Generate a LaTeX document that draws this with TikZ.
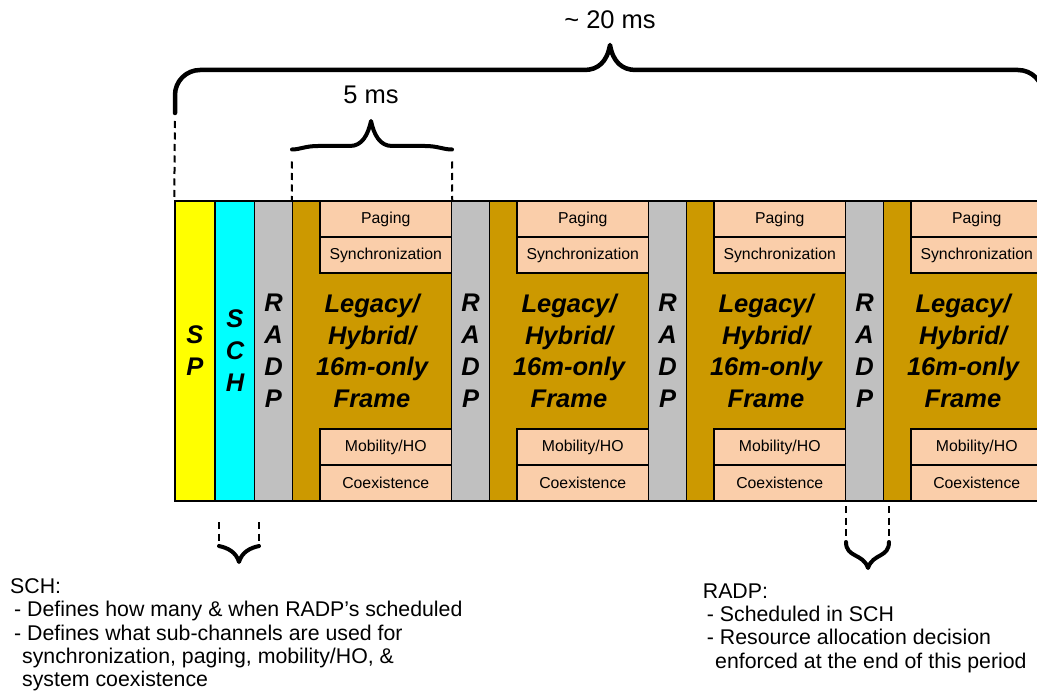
\documentclass[tikz,border=0pt]{standalone}
\usepackage{fontspec}
\setmainfont{Liberation Sans}
\definecolor{spyellow}{RGB}{255,255,0}
\definecolor{schcyan}{RGB}{0,255,255}
\definecolor{radpgray}{RGB}{192,192,192}
\definecolor{framegold}{RGB}{204,153,0}
\definecolor{peach}{RGB}{250,206,170}

\begin{document}
\begin{tikzpicture}[x=1pt,y=-1pt,
  blk/.style={draw=black, line width=1.5pt, inner sep=0pt, align=center,
    minimum height=300pt, font=\fontsize{25.5}{32}\selectfont\bfseries\itshape},
  slot/.style={draw=black, line width=1.5pt, fill=peach, inner sep=0pt,
    minimum height=36pt, minimum width=131.5pt, font=\fontsize{15.8}{18}\selectfont},
  bigtxt/.style={font=\fontsize{25.5}{31.6}\selectfont\bfseries\itshape,
    align=center, inner sep=0pt},
  brace/.style={line width=4.5pt, line cap=round, line join=round},
  smallbrace/.style={line width=4pt, line cap=round, line join=round},
  dashline/.style={line width=2pt, dash pattern=on 7pt off 4.5pt},
  note/.style={font=\fontsize{21.3}{24}\selectfont, anchor=base west, inner sep=0pt},
  ms/.style={font=\fontsize{25.5}{30}\selectfont, anchor=base, inner sep=0pt}
]
\useasboundingbox (0,0) rectangle (1037,698);

% superframe start: SP and SCH
\node[blk, fill=spyellow, minimum width=40pt] (sp) at (195,351) {S\\P};
\node[blk, fill=schcyan, minimum width=40pt] (sch) at (235,351) {S\\C\\H};

% four RADP + frame periods
\foreach \i in {1,...,4}{
  \pgfmathsetmacro\rx{254.5+197*(\i-1)}
  \pgfmathsetmacro\rc{\rx+19}
  \pgfmathsetmacro\fc{\rx+117.5}
  \pgfmathsetmacro\sc{\rx+131.25}
  \node[blk, fill=radpgray, minimum width=38pt] (radp\i) at (\rc,351) {R\\A\\D\\P};
  \node[blk, fill=framegold, minimum width=159pt] (frame\i) at (\fc,351) {};
  \node[slot] (pag\i) at (\sc,219) {Paging};
  \node[slot] (syn\i) at (\sc,255) {Synchronization};
  \node[slot] (mob\i) at (\sc,447) {Mobility/HO};
  \node[slot] (coe\i) at (\sc,483) {Coexistence};
  \node[bigtxt] (lbl\i) at (\fc,351) {Legacy/\\Hybrid/\\16m-only\\Frame};
}

% ~20 ms brace over the whole superframe
\coordinate (bigL) at (175,113);
\coordinate (bigR) at (1043,113);
\coordinate (bigTip) at (610,45);
\draw[brace] (bigL) -- (175,95) .. controls (175,81.2) and (186.2,70) .. (200,70)
  -- (584,70) .. controls (598,70) and (607,62) .. (bigTip)
  .. controls (613,62) and (622,70) .. (636,70)
  -- (1018,70) .. controls (1031.8,70) and (1043,81.2) .. (1043,95) -- (bigR);
\node[ms] (t20) at (610,28.3) {\textasciitilde{} 20 ms};
\draw[dashline, shorten <=8pt] (bigL) -- (sp.north west);

% 5 ms brace over one frame
\coordinate (fiveL) at (292,149.5);
\coordinate (fiveR) at (452,149.5);
\coordinate (fiveTip) at (371,121);
\draw[smallbrace] (fiveL) .. controls (300,149.5) and (305,146) .. (318,146)
  -- (350,146) .. controls (362,146) and (368,135) .. (fiveTip)
  .. controls (374,135) and (380,146) .. (392,146)
  -- (425,146) .. controls (438,146) and (443,149.5) .. (fiveR);
\node[ms] (t5) at (371,104) {5 ms};
\draw[dashline, shorten <=12pt] (fiveL) -- (frame1.north west);
\draw[dashline, shorten <=12pt] (fiveR) -- (frame1.north east);

% brace under SCH
\coordinate (sbL) at (219,546);
\coordinate (sbR) at (259,546);
\coordinate (sbLtop) at (219,522);
\coordinate (sbRtop) at (259,522);
\draw[dashline, shorten >=3pt] (sbLtop) -- (sbL);
\draw[dashline, shorten >=3pt] (sbRtop) -- (sbR);
\draw[smallbrace] (sbL) .. controls (228,548) and (236,552) .. (239,562)
  .. controls (242,552) and (250,548) .. (sbR);

% brace under the last RADP
\coordinate (rbL) at (846,542);
\coordinate (rbR) at (889,542);
\coordinate (rbLtop) at (846,506);
\coordinate (rbRtop) at (889,506);
\draw[dashline, shorten >=5pt] (rbLtop) -- (rbL);
\draw[dashline, shorten >=5pt] (rbRtop) -- (rbR);
\draw[smallbrace] (rbL) .. controls (846,558) and (863,553) .. (868,568)
  .. controls (873,553) and (889,558) .. (rbR);

% SCH notes
\node[note] (n1) at (10,593) {SCH:};
\node[note] (n2) at (14,616.5) {- Defines how many \& when RADP’s scheduled};
\node[note] (n3) at (14,640) {- Defines what sub-channels are used for};
\node[note] (n4) at (22,663.4) {synchronization, paging, mobility/HO, \&};
\node[note] (n5) at (22,686.8) {system coexistence};

% RADP notes
\node[note] (r1) at (702.7,598) {RADP:};
\node[note] (r2) at (706.7,621.4) {- Scheduled in SCH};
\node[note] (r3) at (706.7,644.8) {- Resource allocation decision};
\node[note] (r4) at (715,668.2) {enforced at the end of this period};
\end{tikzpicture}
\end{document}
